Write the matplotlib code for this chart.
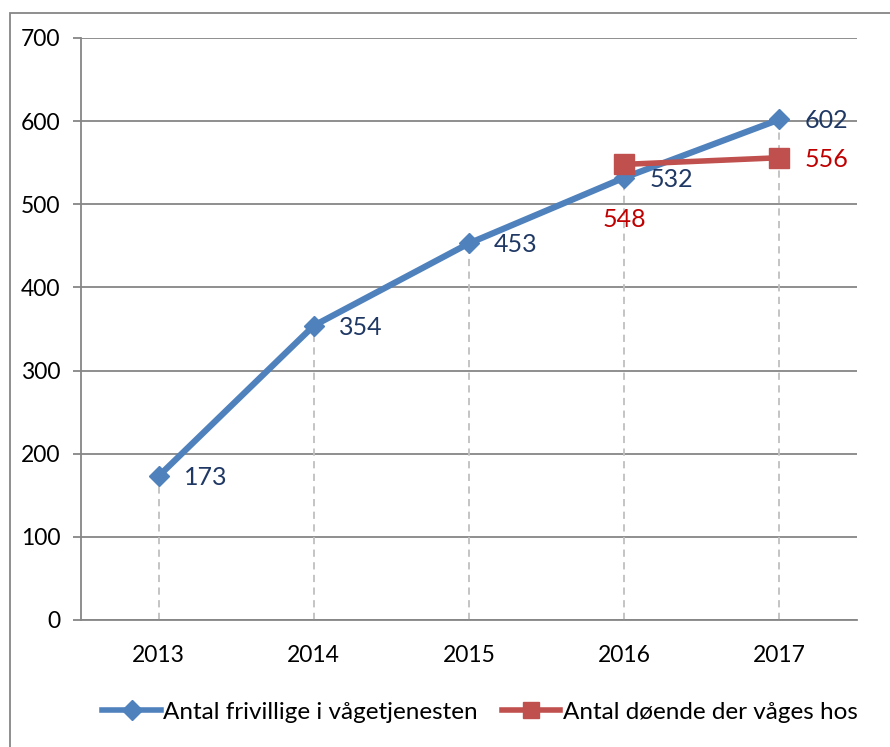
import matplotlib
matplotlib.use("Agg")
import matplotlib.pyplot as plt
from matplotlib.patches import Rectangle
from matplotlib.lines import Line2D

years = ["2013", "2014", "2015", "2016", "2017"]
frivillige = [173, 354, 453, 532, 602]
doende_years = ["2016", "2017"]
doende = [548, 556]
yticks = [0, 100, 200, 300, 400, 500, 600, 700]
series_names = ["Antal frivillige i vågetjenesten", "Antal døende der våges hos"]

plt.rcParams['font.family'] = ['Lato', 'DejaVu Sans']

W, H = 890, 747
fig = plt.figure(figsize=(W / 100, H / 100), dpi=100)
ax = fig.add_axes([81 / W, 1 - 620 / H, (857 - 81) / W, (620 - 38) / H])

xb = list(range(len(years)))
xr = [years.index(y) for y in doende_years]

blue = "#4F81BD"
red = "#C0504D"

# drop lines
for x, v in zip(xb, frivillige):
    ax.plot([x, x], [0, v], color="#BFBFBF", lw=1.3, ls=(0, (4, 3)), zorder=1)

ax.plot(xb, frivillige, color=blue, lw=4.5, marker="D", ms=10, mfc=blue, mec=blue, zorder=3)
ax.plot(xr, doende, color=red, lw=4, marker="s", ms=14, mfc=red, mec=red, zorder=4)

lab_fs = 18
for x, v in zip(xb, frivillige):
    ax.annotate(str(v), (x, v), xytext=(18, -1), textcoords="offset points",
                ha="left", va="center", fontsize=lab_fs, color="#1F3864", zorder=5)
# red labels: first below, second right
ax.annotate(str(doende[0]), (xr[0], doende[0]), xytext=(0, -40), textcoords="offset points",
            ha="center", va="center", fontsize=lab_fs, color="#C00000", zorder=5)
ax.annotate(str(doende[1]), (xr[1], doende[1]), xytext=(18, -1), textcoords="offset points",
            ha="left", va="center", fontsize=lab_fs, color="#C00000", zorder=5)

ax.set_xlim(-0.5, len(years) - 0.5)
ax.set_ylim(0, 700)
ax.set_yticks(yticks)
ax.set_xticks(xb)
ax.set_xticklabels(years)
ax.yaxis.grid(True, color="#868686", lw=1.3)
ax.set_axisbelow(True)
for s in ["top", "right"]:
    ax.spines[s].set_visible(False)
ax.spines["left"].set_color("#868686")
ax.spines["bottom"].set_color("#868686")
ax.spines["left"].set_linewidth(1.3)
ax.spines["bottom"].set_linewidth(1.3)
ax.tick_params(axis="y", length=6, width=1.3, color="#868686", labelsize=16.5, pad=9)
ax.tick_params(axis="x", length=0, labelsize=16.5, pad=18)

handles = [Line2D([], [], color=blue, lw=4, marker="D", ms=10),
           Line2D([], [], color=red, lw=4, marker="s", ms=12)]
fig.legend(handles, series_names, loc="center", bbox_to_anchor=(480 / W, 1 - 712 / H),
           ncol=2, frameon=False, fontsize=17.5, handlelength=2.4, handletextpad=0.1,
           columnspacing=1.0)

fig.patches.append(Rectangle((10 / W, -0.1), 1.2, 1 - 13 / H + 0.1, transform=fig.transFigure,
                             fill=False, edgecolor="#868686", lw=1.3))

fig.savefig("out.png", dpi=100)
